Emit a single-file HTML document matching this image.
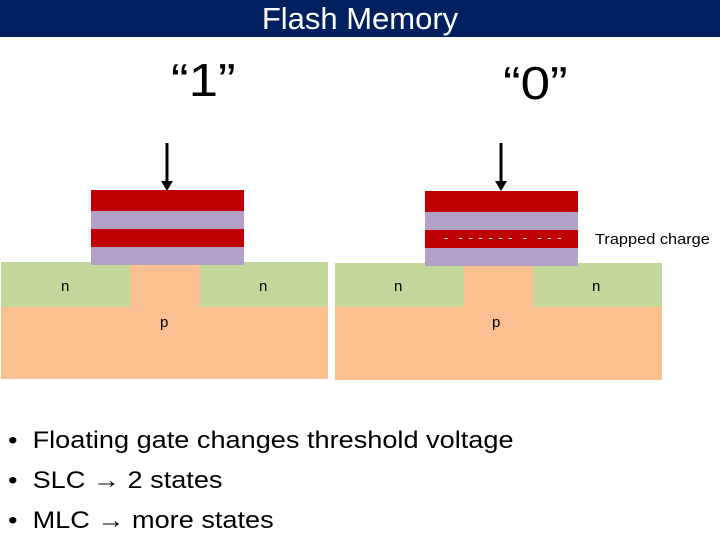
<!DOCTYPE html>
<html><head><style>
body{margin:0;width:720px;height:540px;background:#fff;position:relative;overflow:hidden;font-family:"Liberation Sans",sans-serif}
div{position:absolute}
.red{background:#c00000}.lav{background:#b1a0c7}.grn{background:#c4d79b}.org{background:#fac090}
.lbl{font-size:15px;color:#000}
</style></head><body>
<div style="left:0;top:0;width:720px;height:37px;background:#002060"></div>
<div style="left:0;top:0;width:720px;text-align:center;color:#fff;font-size:31px;line-height:38px">Flash Memory</div>
<div style="left:171px;top:53px;font-size:46px;transform:scaleX(1.15);transform-origin:left">“1”</div>
<div style="left:503px;top:56px;font-size:46px;transform:scaleX(1.15);transform-origin:left">“0”</div>

<!-- left device -->
<div class="org" style="left:1px;top:262px;width:327px;height:117px"></div>
<div class="grn" style="left:1px;top:262px;width:129px;height:45px"></div>
<div class="grn" style="left:200px;top:262px;width:128px;height:45px"></div>
<div class="red" style="left:91px;top:190px;width:153px;height:21px"></div>
<div class="lav" style="left:91px;top:211px;width:153px;height:18px"></div>
<div class="red" style="left:91px;top:229px;width:153px;height:18px"></div>
<div class="lav" style="left:91px;top:247px;width:153px;height:18px"></div>
<div class="lbl" style="left:61px;top:278px">n</div>
<div class="lbl" style="left:259px;top:278px">n</div>
<div class="lbl" style="left:160px;top:314px">p</div>

<!-- right device -->
<div class="org" style="left:335px;top:263px;width:327px;height:117px"></div>
<div class="grn" style="left:335px;top:263px;width:129px;height:44px"></div>
<div class="grn" style="left:533px;top:263px;width:129px;height:44px"></div>
<div class="red" style="left:425px;top:191px;width:153px;height:21px"></div>
<div class="lav" style="left:425px;top:212px;width:153px;height:18px"></div>
<div class="red" style="left:425px;top:230px;width:153px;height:18px"></div>
<div class="lav" style="left:425px;top:248px;width:153px;height:18px"></div>
<div style="left:444px;top:230px;color:#fff;font-size:13px;line-height:16px;letter-spacing:1px">-&nbsp;&nbsp;- - - - - -&nbsp;&nbsp;-&nbsp;&nbsp;- - -</div>
<div class="lbl" style="left:394px;top:278px">n</div>
<div class="lbl" style="left:592px;top:278px">n</div>
<div class="lbl" style="left:492px;top:314px">p</div>
<div style="left:595px;top:231px;font-size:15px;transform:scaleX(1.09);transform-origin:left">Trapped charge</div>

<svg style="position:absolute;left:0;top:0" width="720" height="540">
<line x1="167" y1="143" x2="167" y2="182" stroke="#000" stroke-width="3"/>
<polygon points="161,181 173,181 167,191" fill="#000"/>
<line x1="501" y1="143" x2="501" y2="182" stroke="#000" stroke-width="3"/>
<polygon points="495,181 507,181 501,191" fill="#000"/>
</svg>

<div style="left:8px;top:421px;font-size:24px;line-height:40px;transform:scaleX(1.13);transform-origin:left">
• &nbsp;Floating gate changes threshold voltage<br>
• &nbsp;SLC <b>→</b> 2 states<br>
• &nbsp;MLC <b>→</b> more states</div>
</body></html>
